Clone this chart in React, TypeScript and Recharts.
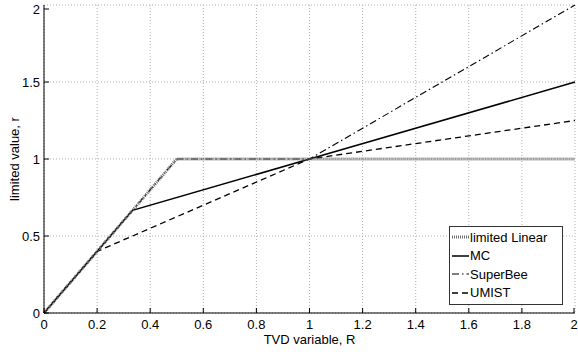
import React from 'react';
import { LineChart, Line, XAxis, YAxis, CartesianGrid, Legend, Label } from 'recharts';

const xTicks = [0, 0.2, 0.4, 0.6, 0.8, 1, 1.2, 1.4, 1.6, 1.8, 2];
const yTicks = [0, 0.5, 1, 1.5, 2];

const limitedLinear = [
  { r: 0, v: 0 },
  { r: 0.5, v: 1 },
  { r: 2, v: 1 },
];
const mc = [
  { r: 0, v: 0 },
  { r: 1 / 3, v: 2 / 3 },
  { r: 1, v: 1 },
  { r: 2, v: 1.5 },
];
const superBee = [
  { r: 0, v: 0 },
  { r: 0.5, v: 1 },
  { r: 1, v: 1 },
  { r: 2, v: 2 },
];
const umist = [
  { r: 0, v: 0 },
  { r: 0.2, v: 0.4 },
  { r: 1, v: 1 },
  { r: 2, v: 1.25 },
];

const seriesNames = ['limited Linear', 'MC', 'SuperBee', 'UMIST'];

const styles: Record<string, { stroke: string; width: number; dash?: string }> = {
  'limited Linear': { stroke: '#6e6e6e', width: 3, dash: '1 1' },
  MC: { stroke: '#000', width: 1.5 },
  SuperBee: { stroke: '#000', width: 1.1, dash: '7 3 1.5 3' },
  UMIST: { stroke: '#000', width: 1.3, dash: '6 4' },
};

const FONT = 'Liberation Sans, Arial, sans-serif';
const FS = 13;
const fmt = (v: number) => String(Math.round(v * 10) / 10);

const BottomTick = (props: any) => {
  const { x, y, payload } = props;
  return (
    <g>
      <line x1={x} x2={x} y1={y} y2={y - 5} stroke="#000" />
      <text x={x} y={y + 16} textAnchor="middle" fontSize={FS} fontFamily={FONT} fill="#000">
        {fmt(payload.value)}
      </text>
    </g>
  );
};
const TopTick = (props: any) => {
  const { x, y } = props;
  return <line x1={x} x2={x} y1={y} y2={y + 5} stroke="#000" />;
};
const LeftTick = (props: any) => {
  const { x, y, payload } = props;
  return (
    <g>
      <line x1={x} x2={x + 5} y1={y} y2={y} stroke="#000" />
      <text x={x - 4} y={y + 4.5} textAnchor="end" fontSize={FS} fontFamily={FONT} fill="#000">
        {fmt(payload.value)}
      </text>
    </g>
  );
};
const RightTick = (props: any) => {
  const { x, y } = props;
  return <line x1={x} x2={x - 5} y1={y} y2={y} stroke="#000" />;
};

const LegendBox = () => (
  <div
    style={{
      border: '1px solid #333',
      background: '#fff',
      width: 112,
      padding: '1px 0 2px 0',
      fontFamily: FONT,
      fontSize: FS,
      color: '#000',
    }}
  >
    {seriesNames.map((n) => {
      const s = styles[n];
      return (
        <div key={n} style={{ display: 'flex', alignItems: 'center', height: 18.5 }}>
          <svg width={17} height={10} style={{ marginLeft: 2, marginRight: 1 }}>
            <line x1={0} x2={17} y1={5} y2={5} stroke={s.stroke} strokeWidth={s.width} strokeDasharray={s.dash} />
          </svg>
          <span>{n}</span>
        </div>
      );
    })}
  </div>
);

export default function App() {
  return (
    <div style={{ position: 'absolute', left: 0, top: 0, width: 578, height: 356, background: '#fff' }}>
      <LineChart width={578} height={356} margin={{ top: 5, right: 3, left: 0, bottom: 0 }}>
        <CartesianGrid stroke="#b0b0b0" strokeDasharray="1 2" />
        <XAxis
          dataKey="r"
          type="number"
          domain={[0, 2]}
          ticks={xTicks}
          height={43}
          tickSize={0}
          tickMargin={0}
          tick={<BottomTick />}
          stroke="#000"
          allowDuplicatedCategory={false}
        >
          <Label value="TVD variable, R" position="insideTop" offset={22} fontSize={FS} fontFamily={FONT} fill="#000" />
        </XAxis>
        <XAxis
          xAxisId="top"
          orientation="top"
          dataKey="r"
          type="number"
          domain={[0, 2]}
          ticks={xTicks}
          height={0}
          tickSize={0}
          tickMargin={0}
          tick={<TopTick />}
          stroke="#000"
        />
        <YAxis
          dataKey="v"
          type="number"
          domain={[0, 2]}
          ticks={yTicks}
          width={44}
          tickSize={0}
          tickMargin={0}
          tick={<LeftTick />}
          stroke="#000"
        >
          <Label
            value="limited value, r"
            angle={-90}
            position="insideLeft"
            offset={14}
            style={{ textAnchor: 'middle' }}
            fontSize={FS}
            fontFamily={FONT}
            fill="#000"
          />
        </YAxis>
        <YAxis
          yAxisId="right"
          orientation="right"
          dataKey="v"
          type="number"
          domain={[0, 2]}
          ticks={yTicks}
          width={0}
          tickSize={0}
          tickMargin={0}
          tick={<RightTick />}
          stroke="#000"
        />
        <Legend
          layout="vertical"
          align="center"
          verticalAlign="middle"
          content={() => <LegendBox />}
          wrapperStyle={{ position: 'absolute', left: 449, top: 226, width: 114 }}
        />
        <Line data={superBee} dataKey="v" name="SuperBee" type="linear" stroke={styles.SuperBee.stroke} strokeWidth={styles.SuperBee.width} strokeDasharray={styles.SuperBee.dash} dot={false} isAnimationActive={false} />
        <Line data={umist} dataKey="v" name="UMIST" type="linear" stroke={styles.UMIST.stroke} strokeWidth={styles.UMIST.width} strokeDasharray={styles.UMIST.dash} dot={false} isAnimationActive={false} />
        <Line data={mc} dataKey="v" name="MC" type="linear" stroke={styles.MC.stroke} strokeWidth={styles.MC.width} dot={false} isAnimationActive={false} />
        <Line data={limitedLinear} dataKey="v" name="limited Linear" type="linear" stroke={styles['limited Linear'].stroke} strokeWidth={styles['limited Linear'].width} strokeDasharray={styles['limited Linear'].dash} dot={false} isAnimationActive={false} />
      </LineChart>
    </div>
  );
}
